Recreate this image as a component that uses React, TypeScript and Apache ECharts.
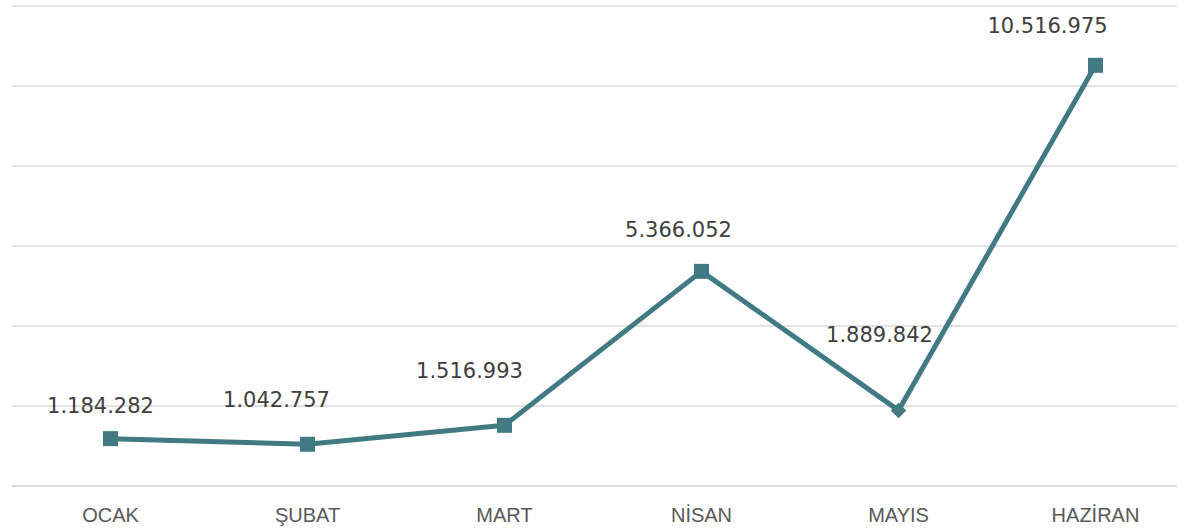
import React, { useEffect, useRef } from "react";
import * as echarts from "echarts";

const categories = ["OCAK", "ŞUBAT", "MART", "NİSAN", "MAYIS", "HAZİRAN"];
const values = [1184282, 1042757, 1516993, 5366052, 1889842, 10516975];
const labelOffsets = [[-10, -33], [-31, -44], [-35, -54], [-23, -41], [-19, -75], [-48, -39]];
const yTicks = { min: 0, max: 12000000, interval: 2000000 };

const fmt = (v: number) => String(v).replace(/\B(?=(\d{3})+(?!\d))/g, ".");

export default function App() {
  const ref = useRef<HTMLDivElement>(null);
  useEffect(() => {
    const chart = echarts.init(ref.current!, null, { renderer: "svg" });
    chart.setOption({
      animation: false,
      grid: { left: 12, top: 6, width: 1182, height: 480, containLabel: false },
      xAxis: {
        type: "category",
        data: categories,
        boundaryGap: true,
        axisLine: { show: true, lineStyle: { color: "#d9d9d9", width: 1.5 } },
        axisTick: { show: false },
        axisLabel: {
          color: "#595959",
          fontFamily: "Liberation Sans",
          fontSize: 20,
          margin: 19,
        },
      },
      yAxis: {
        type: "value",
        min: yTicks.min,
        max: yTicks.max,
        interval: yTicks.interval,
        axisLabel: { show: false },
        axisLine: { show: false },
        axisTick: { show: false },
        splitLine: { lineStyle: { color: "#d9d9d9", width: 1.5 } },
      },
      series: [
        {
          type: "line",
          data: values.map((v, i) => ({
            value: v,
            symbol: "rect",
            symbolSize: i === 4 ? 11 : 15,
            symbolRotate: i === 4 ? 45 : 0,
            label: { offset: labelOffsets[i] },
          })),
          lineStyle: { color: "#417A82", width: 5 },
          itemStyle: { color: "#417A82" },
          label: {
            show: true,
            position: "inside",
            color: "#404040",
            fontFamily: "DejaVu Sans",
            fontSize: 21,
            formatter: (p: any) => fmt(p.value),
          },
        },
      ],
    });
    return () => chart.dispose();
  }, []);
  return (
    <div style={{ position: "fixed", left: 0, top: 0, width: 1177, height: 530, overflow: "hidden", background: "#fff" }}>
      <div ref={ref} style={{ width: 1200, height: 530 }} />
    </div>
  );
}
